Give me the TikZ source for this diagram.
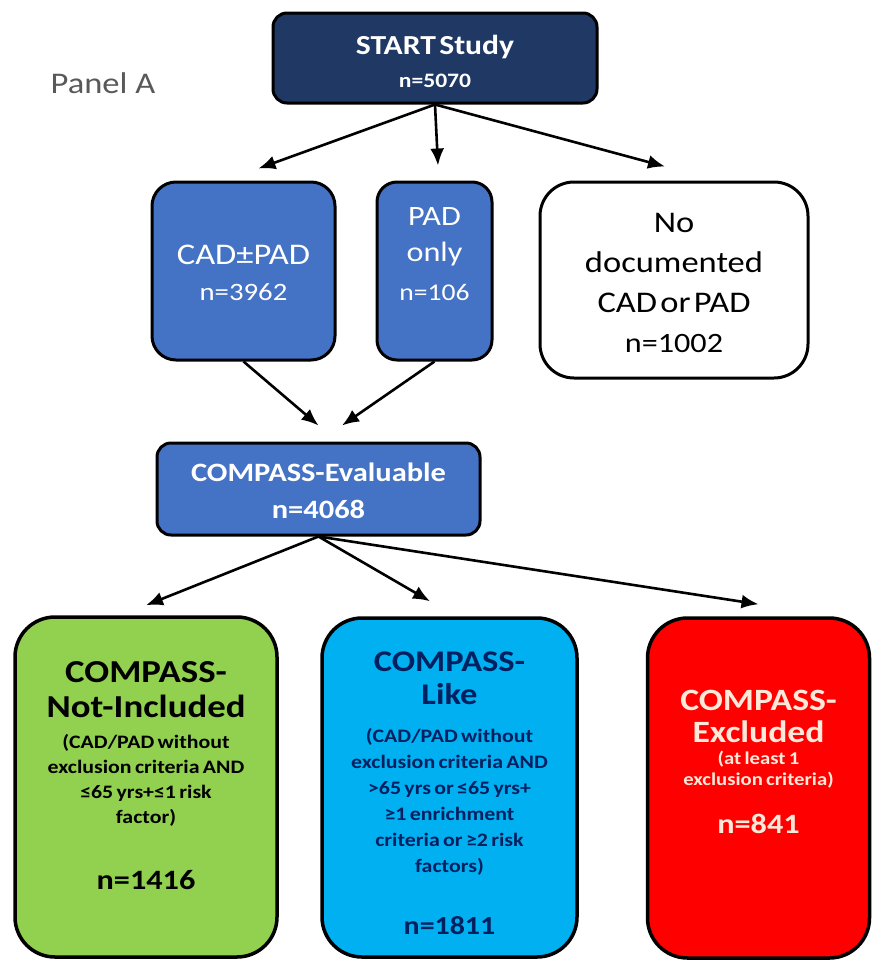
\documentclass[tikz,border=0pt]{standalone}
\usepackage{fontspec}
\setmainfont{Carlito}[FakeStretch=1.15]
\usetikzlibrary{arrows.meta}
\definecolor{navy}{HTML}{1F3864}
\definecolor{midblue}{HTML}{4472C4}
\definecolor{lgreen}{HTML}{92D050}
\definecolor{lcyan}{HTML}{00B0F0}
\definecolor{brred}{HTML}{FF0000}
\definecolor{navytext}{HTML}{002060}
\definecolor{redtext}{HTML}{FDE9D9}
\definecolor{panelgray}{HTML}{595959}
\begin{document}
\begin{tikzpicture}[x=1pt,y=-1pt,
    % define styles
    box/.style={
        draw=black,
        line width=3pt,
        rounded corners=14pt,
        inner sep=0pt,
        align=center
    },
    bigbox/.style={
        box,
        line width=3.5pt,
        rounded corners=40pt,
        minimum height=340pt
    },
    arr/.style={
        line width=2.6pt,
        -{Latex[length=17pt,width=14pt]}
    }
]
\useasboundingbox (0,0) rectangle (871,961);

% Panel label
\node[text=panelgray, font=\fontsize{30}{30}\selectfont] (panel) at (103,83) {Panel A};

% Top box
\node[box, fill=navy, text=white, minimum width=324pt, minimum height=90pt, text width=300pt] (start) at (435,58)
    {\fontsize{27.5}{30}\selectfont\bfseries START Study\par
     \fontsize{20.5}{33}\selectfont\bfseries n=5070\par\vspace{-6pt}};

% Second row
\node[box, rounded corners=24pt, fill=midblue, text=white, minimum width=183pt, minimum height=178pt, text width=170pt] (cad) at (243.5,271)
    {\fontsize{30}{30}\selectfont CAD±PAD\par
     \fontsize{25}{36}\selectfont n=3962\par\vspace{-4pt}};
\node[box, rounded corners=20pt, fill=midblue, text=white, minimum width=115pt, minimum height=178pt, text width=110pt] (pad) at (434.5,271)
    {\fontsize{28}{36}\selectfont PAD\par only\par
     \fontsize{24}{39}\selectfont n=106\par\vspace{34pt}};
\node[box, rounded corners=34pt, fill=white, text=black, minimum width=268pt, minimum height=196pt, text width=250pt] (nodoc) at (674,280)
    {\fontsize{30}{40}\selectfont No\par documented\par CAD or PAD\par
     \fontsize{28}{40}\selectfont n=1002\par\vspace{-6pt}};

% Middle box
\node[box, fill=midblue, text=white, minimum width=323pt, minimum height=92pt, text width=310pt] (eval) at (318.5,489)
    {\fontsize{26.5}{37}\selectfont\bfseries COMPASS-Evaluable\par
     n=4068\par\vspace{-4pt}};

% Bottom row
\node[bigbox, fill=lgreen, text=black, minimum width=262pt, text width=250pt] (notinc) at (146,787)
    {\fontsize{32}{35}\selectfont\bfseries COMPASS-\par Not-Included\par
     \vspace{6pt}\fontsize{19}{25}\selectfont\bfseries (CAD/PAD without\par exclusion criteria AND\par ≤65 yrs+≤1 risk\par factor)\par
     \vspace{32pt}\fontsize{28}{34}\selectfont\bfseries n=1416\par\vspace{23pt}};
\node[bigbox, fill=lcyan, text=navytext, minimum width=255pt, minimum height=339pt, text width=245pt] (like) at (449.5,787.5)
    {\fontsize{30}{33}\selectfont\bfseries COMPASS-\par Like\par
     \vspace{12pt}\fontsize{19}{26}\selectfont\bfseries (CAD/PAD without\par exclusion criteria AND\par >65 yrs or ≤65 yrs+\par ≥1 enrichment\par criteria or ≥2 risk\par factors)\par
     \vspace{28pt}\fontsize{26}{34}\selectfont\bfseries n=1811\par\vspace{-12pt}};
\node[bigbox, fill=brred, text=redtext, minimum width=222pt, text width=210pt] (excl) at (758.5,788)
    {\fontsize{31}{32}\selectfont\bfseries COMPASS-\par Excluded\par
     \vspace{1pt}\fontsize{18}{21}\selectfont (at least 1\par exclusion criteria)\par
     \vspace{14pt}\fontsize{28}{34}\selectfont\bfseries n=841\par\vspace{52pt}};

% Arrows from the top box
\draw[arr] (start.south) -- ([xshift=15pt,yshift=12pt]cad.north);
\draw[arr] (start.south) -- ([xshift=3.5pt,yshift=15pt]pad.north);
\draw[arr] (start.south) -- ([xshift=-9pt,yshift=14pt]nodoc.north);
% Arrows into the middle box
\draw[arr] (cad.south) -- ([yshift=16pt]eval.north);
\draw[arr] (pad.south) -- ([xshift=23.5pt,yshift=16pt]eval.north);
% Arrows to the bottom row
\draw[arr] (eval.south) -- ([yshift=10pt]notinc.north);
\draw[arr] (eval.south) -- ([xshift=-19.5pt,yshift=15pt]like.north);
\draw[arr] (eval.south) -- ([yshift=12pt]excl.north);
\end{tikzpicture}
\end{document}
